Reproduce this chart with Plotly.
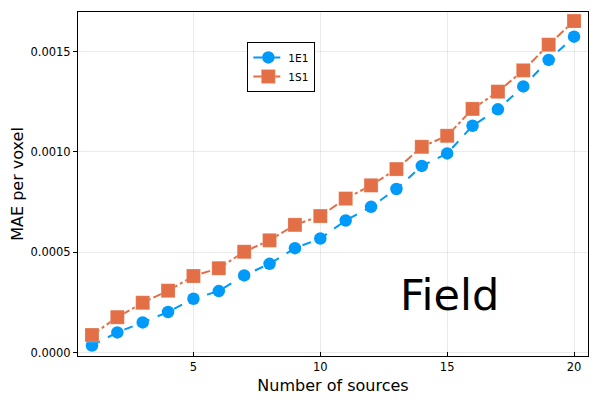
import plotly.graph_objects as go

# ── Data ──────────────────────────────────────────────────────────────────────
n_sources = list(range(1, 21))

mae_1e1 = [0.000035, 0.000100, 0.000150, 0.000202, 0.000268, 0.000306, 0.000384,
           0.000442, 0.000520, 0.000568, 0.000658, 0.000726, 0.000815, 0.000930,
           0.000992, 0.001130, 0.001212, 0.001326, 0.001458, 0.001574]
mae_1s1 = [0.000087, 0.000176, 0.000248, 0.000308, 0.000381, 0.000420, 0.000502,
           0.000559, 0.000636, 0.000680, 0.000767, 0.000833, 0.000914, 0.001025,
           0.001080, 0.001214, 0.001300, 0.001406, 0.001534, 0.001652]

x_ticks = [5, 10, 15, 20]
y_ticks = [0.0, 0.0005, 0.0010, 0.0015]
y_tick_text = ["0.0000", "0.0005", "0.0010", "0.0015"]

BLUE = "#009AFA"
ORANGE = "#E26F46"
FONT = "DejaVu Sans"

# ── Figure ────────────────────────────────────────────────────────────────────
fig = go.Figure()

fig.add_trace(go.Scatter(
    x=n_sources, y=mae_1e1, name="1E1",
    mode="lines+markers",
    line=dict(color=BLUE, width=2, dash="dash"),
    marker=dict(symbol="circle", size=12.5, color=BLUE),
))
fig.add_trace(go.Scatter(
    x=n_sources, y=mae_1s1, name="1S1",
    mode="lines+markers",
    line=dict(color=ORANGE, width=2, dash="dashdot"),
    marker=dict(symbol="square", size=14, color=ORANGE,
                line=dict(color="rgba(255,255,255,0.4)", width=0.5)),
))

axis_common = dict(
    showline=True, linecolor="black", linewidth=1, mirror=True,
    showgrid=True, gridcolor="rgba(0,0,0,0.08)", gridwidth=1,
    zeroline=False, tickfont=dict(size=11.5, color="black", family=FONT),
    ticklen=4, tickcolor="black", automargin=False,
)

# page body adds an 8px offset, so the figure is a bit smaller than the window
fig.update_layout(
    width=592, height=392,
    margin=dict(l=70, r=12, t=4, b=44),
    paper_bgcolor="white", plot_bgcolor="white",
    font=dict(family=FONT, color="black"),
    xaxis=dict(**axis_common, range=[0.45, 20.55], tickvals=x_ticks, ticks="inside",
               title=dict(text="Number of sources", font=dict(size=16), standoff=7)),
    yaxis=dict(**axis_common, range=[-0.0000175, 0.001697], tickvals=y_ticks,
               ticktext=y_tick_text, ticks="outside",
               title=dict(text="MAE per voxel", font=dict(size=16), standoff=10)),
    legend=dict(x=0.332, y=0.913, xanchor="left", yanchor="top",
                bgcolor="white", bordercolor="black", borderwidth=1,
                font=dict(size=10.5), itemwidth=30, tracegroupgap=0),
    annotations=[dict(x=15.1, y=0.000287, xref="x", yref="y", text="Field",
                      showarrow=False, font=dict(size=43, color="black", family=FONT))],
)

fig.write_html("out.html")
